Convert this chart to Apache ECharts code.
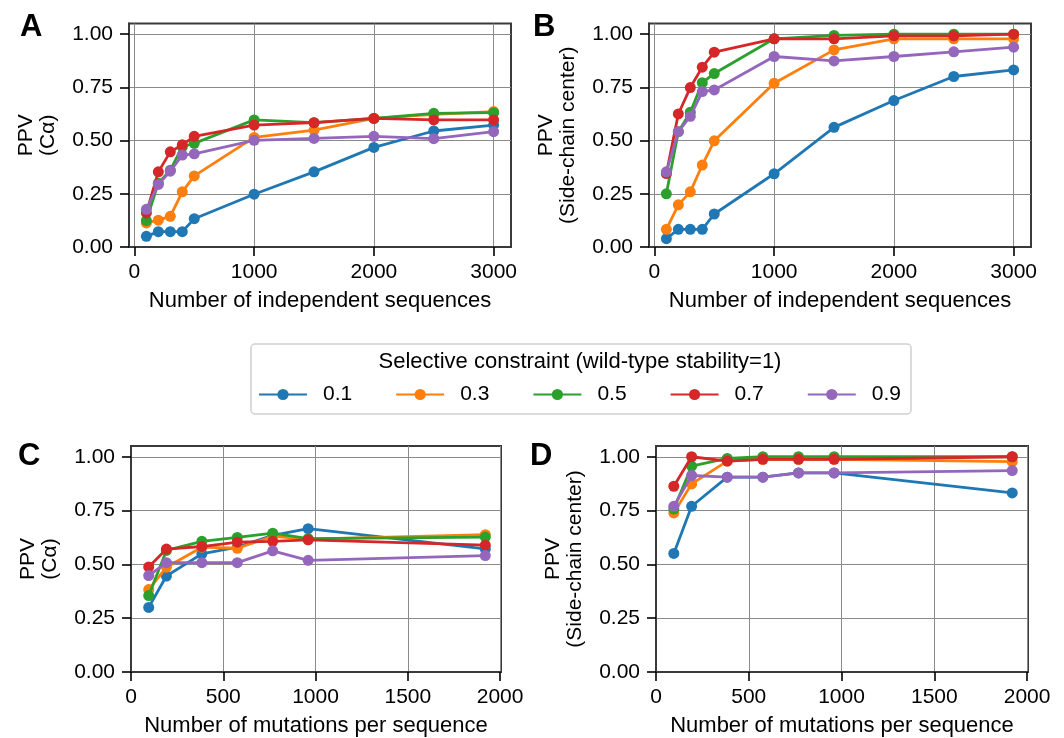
<!DOCTYPE html>
<html>
<head>
<meta charset="utf-8">
<script src="https://cdn.jsdelivr.net/npm/echarts@6/dist/echarts.min.js"></script>
<style>
html,body{margin:0;padding:0;background:#fff;}
#chart{width:1064px;height:738px;}
</style>
</head>
<body>
<div id="chart"></div>
<script>
// ---------- data ----------
const constraints = ['0.1', '0.3', '0.5', '0.7', '0.9'];
const colors = ['#1f77b4', '#ff7f0e', '#2ca02c', '#d62728', '#9467bd'];

// x values
const numSequences = [100, 200, 300, 400, 500, 1000, 1500, 2000, 2500, 3000];
const numMutations = [96, 192, 384, 576, 768, 960, 1920];

// tick labels
const seqTicks = [0, 1000, 2000, 3000];
const mutTicks = [0, 500, 1000, 1500, 2000];
const ppvTicks = [0, 0.25, 0.5, 0.75, 1.0];

// Panel A: PPV (C-alpha) vs number of independent sequences
const a01 = [0.050, 0.072, 0.072, 0.072, 0.133, 0.248, 0.353, 0.468, 0.545, 0.573];
const a03 = [0.113, 0.126, 0.144, 0.259, 0.334, 0.515, 0.549, 0.604, 0.623, 0.636];
const a05 = [0.124, 0.300, 0.361, 0.471, 0.487, 0.597, 0.584, 0.604, 0.628, 0.631];
const a07 = [0.160, 0.353, 0.447, 0.480, 0.520, 0.573, 0.584, 0.604, 0.597, 0.597];
const a09 = [0.177, 0.294, 0.356, 0.432, 0.438, 0.501, 0.510, 0.520, 0.509, 0.542];

// Panel B: PPV (side-chain center) vs number of independent sequences
const b01 = [0.039, 0.083, 0.083, 0.083, 0.155, 0.344, 0.562, 0.688, 0.801, 0.832];
const b03 = [0.083, 0.198, 0.259, 0.385, 0.499, 0.769, 0.926, 0.978, 0.978, 0.978];
const b05 = [0.250, 0.542, 0.633, 0.772, 0.815, 0.978, 0.994, 1.000, 1.000, 1.000];
const b07 = [0.345, 0.625, 0.749, 0.845, 0.915, 0.978, 0.978, 0.992, 0.992, 1.000];
const b09 = [0.353, 0.542, 0.614, 0.730, 0.738, 0.895, 0.874, 0.895, 0.917, 0.939];

// Panel C: PPV (C-alpha) vs number of mutations per sequence
const c01 = [0.300, 0.446, 0.549, 0.580, 0.635, 0.666, 0.572];
const c03 = [0.383, 0.487, 0.580, 0.575, 0.630, 0.617, 0.638];
const c05 = [0.355, 0.565, 0.607, 0.625, 0.645, 0.620, 0.627];
const c07 = [0.488, 0.571, 0.583, 0.603, 0.607, 0.614, 0.589];
const c09 = [0.448, 0.508, 0.508, 0.508, 0.563, 0.519, 0.541];

// Panel D: PPV (side-chain center) vs number of mutations per sequence
const d01 = [0.551, 0.770, 0.905, 0.905, 0.925, 0.925, 0.832];
const d03 = [0.739, 0.874, 0.980, 0.988, 0.988, 0.988, 0.977];
const d05 = [0.757, 0.956, 0.992, 1.000, 1.000, 1.000, 1.000];
const d07 = [0.863, 1.000, 0.980, 0.988, 0.988, 0.988, 1.000];
const d09 = [0.770, 0.913, 0.905, 0.905, 0.925, 0.925, 0.936];

// ---------- chart ----------
const FONT = '"Liberation Sans", Arial, Helvetica, sans-serif';
const frameColor = '#3a3a3a';

const panels = [
  { letter: 'A', grid: {left: 129, top: 23.5, width: 382, height: 223.5},
    x: numSequences, xmin: -45, xmax: 3145, xticks: seqTicks,
    xname: 'Number of independent sequences', yname: 'PPV\n(Cα)',
    data: [a01, a03, a05, a07, a09], letterPos: [20, 28] },
  { letter: 'B', grid: {left: 649, top: 23.5, width: 382, height: 223.5},
    x: numSequences, xmin: -45, xmax: 3145, xticks: seqTicks,
    xname: 'Number of independent sequences', yname: 'PPV\n(Side-chain center)',
    data: [b01, b03, b05, b07, b09], letterPos: [533, 28] },
  { letter: 'C', grid: {left: 131, top: 446, width: 370, height: 226},
    x: numMutations, xmin: 0, xmax: 2005, xticks: mutTicks,
    xname: 'Number of mutations per sequence', yname: 'PPV\n(Cα)',
    data: [c01, c03, c05, c07, c09], letterPos: [18, 457] },
  { letter: 'D', grid: {left: 656, top: 446, width: 372, height: 226},
    x: numMutations, xmin: 0, xmax: 2005, xticks: mutTicks,
    xname: 'Number of mutations per sequence', yname: 'PPV\n(Side-chain center)',
    data: [d01, d03, d05, d07, d09], letterPos: [530, 457] }
];

const grids = [], xAxes = [], yAxes = [], series = [], graphics = [];

panels.forEach((p, pi) => {
  grids.push(Object.assign({show: true, borderColor: frameColor, borderWidth: 2,
    backgroundColor: 'transparent', containLabel: false}, p.grid));
  xAxes.push({
    type: 'value', gridIndex: pi, min: p.xmin, max: p.xmax,
    name: p.xname, nameLocation: 'middle', nameGap: 43,
    nameTextStyle: {fontFamily: FONT, fontSize: 22, color: '#000'},
    axisLine: {show: true, onZero: false, lineStyle: {color: frameColor, width: 2}},
    axisTick: {show: true, length: 9, customValues: p.xticks, lineStyle: {color: '#000', width: 1.6}},
    axisLabel: {show: true, customValues: p.xticks, margin: 15, fontFamily: FONT, fontSize: 21, color: '#000',
      formatter: v => String(v)},
    splitLine: {show: true, lineStyle: {color: '#8a8a8a', width: 1}}
  });
  yAxes.push({
    type: 'value', gridIndex: pi, min: 0, max: 1.05,
    name: p.yname, nameLocation: 'middle', nameRotate: 90, nameGap: 70,
    nameTextStyle: {fontFamily: FONT, fontSize: 21, color: '#000', lineHeight: 22, align: 'center'},
    axisLine: {show: true, onZero: false, lineStyle: {color: frameColor, width: 2}},
    axisTick: {show: true, length: 9, customValues: ppvTicks, lineStyle: {color: '#000', width: 1.6}},
    axisLabel: {show: true, customValues: ppvTicks, margin: 16, fontFamily: FONT, fontSize: 21, color: '#000',
      formatter: v => v.toFixed(2)},
    splitLine: {show: true, lineStyle: {color: '#8a8a8a', width: 1}}
  });
  p.data.forEach((arr, si) => {
    series.push({
      name: constraints[si], type: 'line', xAxisIndex: pi, yAxisIndex: pi,
      data: p.x.map((xv, i) => [xv, arr[i]]),
      symbol: 'circle', symbolSize: 11, showSymbol: true,
      lineStyle: {color: colors[si], width: 2.8},
      itemStyle: {color: colors[si]},
      emphasis: {disabled: true}, animation: false, z: 2 + si
    });
  });
  graphics.push({
    type: 'text', left: p.letterPos[0], top: p.letterPos[1] - 16,
    style: {text: p.letter, fontFamily: FONT, fontSize: 31, fontWeight: 'bold', fill: '#000'}
  });
});

// legend box + title
graphics.push({
  type: 'rect', shape: {x: 251, y: 344, width: 660, height: 70, r: 4},
  style: {fill: '#fff', stroke: '#d0d0d0', lineWidth: 1.5}, z: -1
});
graphics.push({
  type: 'text', x: 580, y: 362,
  style: {text: 'Selective constraint (wild-type stability=1)', fontFamily: FONT, fontSize: 22,
    fill: '#000', textAlign: 'center', textVerticalAlign: 'middle'}
});

const chart = echarts.init(document.getElementById('chart'), null, {renderer: 'canvas'});
chart.setOption({
  backgroundColor: '#fff',
  animation: false,
  textStyle: {fontFamily: FONT},
  grid: grids, xAxis: xAxes, yAxis: yAxes, series: series,
  legend: {
    data: constraints, left: 253, top: 379, orient: 'horizontal',
    itemWidth: 48, itemHeight: 14, itemGap: 43,
    textStyle: {fontFamily: FONT, fontSize: 21, color: '#000', padding: [0, 0, 0, 11]},
    selectedMode: false
  },
  graphic: graphics
});
</script>
</body>
</html>
